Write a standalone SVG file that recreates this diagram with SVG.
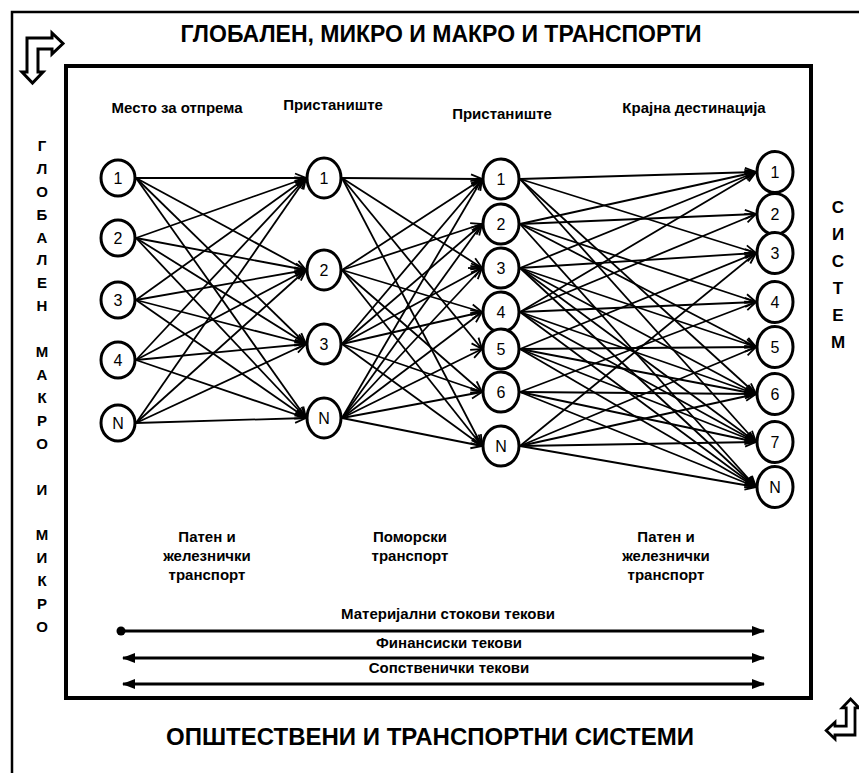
<svg xmlns="http://www.w3.org/2000/svg" width="859" height="773" viewBox="0 0 859 773">
<defs>
<style>
.t{font-family:"Liberation Sans",Arial,sans-serif;fill:#000}
.b{font-weight:bold}
.h{font-size:15px;font-weight:bold;text-anchor:middle}
.v{font-size:15px;font-weight:bold;text-anchor:middle}
.vr{font-size:17px;font-weight:bold;text-anchor:middle}
.n ellipse{fill:#fff;stroke:#000;stroke-width:3}
.n text{font-family:"Liberation Sans",Arial,sans-serif;font-size:16px;text-anchor:middle}
.e line{stroke:#000;stroke-width:1.8;marker-end:url(#oa)}
.f line{stroke:#000;stroke-width:3}
</style>
<marker id="oa" markerWidth="14" markerHeight="12" refX="12" refY="6" orient="auto" markerUnits="userSpaceOnUse">
<path d="M1,1.5 L12,6 L1,10.5" fill="none" stroke="#000" stroke-width="1.8"/>
</marker>
<marker id="fa" markerWidth="14" markerHeight="12" refX="12" refY="6" orient="auto-start-reverse" markerUnits="userSpaceOnUse">
<path d="M0,1 L13,6 L0,11 Z" fill="#000"/>
</marker>
<path id="elbow" d="M27,38 L52,38 L52,33 L63,43.5 L52,54 L52,49 L38,49 L38,72 L43,72 L32.5,83 L22,72 L27,72 Z"/>
</defs>
<rect width="859" height="773" fill="#fff"/>
<rect x="12" y="12" width="900" height="900" fill="none" stroke="#000" stroke-width="2.5"/>
<rect x="66" y="66" width="745" height="632" fill="none" stroke="#000" stroke-width="4"/>

<use href="#elbow" fill="#fff" stroke="#000" stroke-width="3"/>
<use href="#elbow" fill="#fff" stroke="#000" stroke-width="3.5" transform="translate(855,735) rotate(180) scale(0.8) translate(-27,-38)"/>

<text class="t b" x="441" y="42" font-size="23" text-anchor="middle">ГЛОБАЛЕН, МИКРО И МАКРО И ТРАНСПОРТИ</text>
<text class="t b" x="430" y="745" font-size="24" text-anchor="middle">ОПШТЕСТВЕНИ И ТРАНСПОРТНИ СИСТЕМИ</text>

<g class="t v">
<text x="42" y="151">Г</text><text x="42" y="174">Л</text><text x="42" y="197">О</text><text x="42" y="220">Б</text><text x="42" y="243">А</text><text x="42" y="265">Л</text><text x="42" y="288">Е</text><text x="42" y="311">Н</text>
<text x="42" y="357">М</text><text x="42" y="380">А</text><text x="42" y="403">К</text><text x="42" y="426">Р</text><text x="42" y="449">О</text>
<text x="42" y="495">И</text>
<text x="42" y="540">М</text><text x="42" y="563">И</text><text x="42" y="586">К</text><text x="42" y="609">Р</text><text x="42" y="632">О</text>
</g>
<g class="t vr">
<text x="838" y="213">С</text><text x="838" y="240">И</text><text x="838" y="267">С</text><text x="838" y="294">Т</text><text x="838" y="321">Е</text><text x="838" y="348">М</text>
</g>

<g class="t h">
<text x="177" y="113">Место за отпрема</text>
<text x="333" y="110">Пристаниште</text>
<text x="502" y="119">Пристаниште</text>
<text x="694" y="113">Крајна дестинација</text>
<text x="207" y="542">Патен и</text><text x="207" y="561">железнички</text><text x="207" y="580">транспорт</text>
<text x="410" y="542">Поморски</text><text x="410" y="561">транспорт</text>
<text x="666" y="542">Патен и</text><text x="666" y="561">железнички</text><text x="666" y="580">транспорт</text>
<text x="448" y="619">Материјални стокови текови</text>
<text x="449" y="648">Финансиски текови</text>
<text x="449" y="673">Сопственички текови</text>
</g>

<g id="connectors">
<g class="e">
<line x1="136" y1="178" x2="306" y2="178"/><line x1="136" y1="178" x2="306" y2="270"/><line x1="136" y1="178" x2="306" y2="344"/><line x1="136" y1="178" x2="306" y2="418"/>
<line x1="136" y1="238" x2="306" y2="178"/><line x1="136" y1="238" x2="306" y2="270"/><line x1="136" y1="238" x2="306" y2="344"/><line x1="136" y1="238" x2="306" y2="418"/>
<line x1="136" y1="300" x2="306" y2="178"/><line x1="136" y1="300" x2="306" y2="270"/><line x1="136" y1="300" x2="306" y2="344"/><line x1="136" y1="300" x2="306" y2="418"/>
<line x1="136" y1="360" x2="306" y2="178"/><line x1="136" y1="360" x2="306" y2="270"/><line x1="136" y1="360" x2="306" y2="344"/><line x1="136" y1="360" x2="306" y2="418"/>
<line x1="136" y1="423" x2="306" y2="178"/><line x1="136" y1="423" x2="306" y2="270"/><line x1="136" y1="423" x2="306" y2="344"/><line x1="136" y1="423" x2="306" y2="418"/>

<line x1="342" y1="178" x2="482" y2="179"/><line x1="342" y1="178" x2="482" y2="268"/><line x1="342" y1="178" x2="482" y2="349"/><line x1="342" y1="178" x2="482" y2="446"/>
<line x1="342" y1="270" x2="482" y2="179"/><line x1="342" y1="270" x2="482" y2="224"/><line x1="342" y1="270" x2="482" y2="312"/><line x1="342" y1="270" x2="482" y2="392"/><line x1="342" y1="270" x2="482" y2="446"/>
<line x1="342" y1="344" x2="482" y2="179"/><line x1="342" y1="344" x2="482" y2="224"/><line x1="342" y1="344" x2="482" y2="268"/><line x1="342" y1="344" x2="482" y2="312"/><line x1="342" y1="344" x2="482" y2="392"/><line x1="342" y1="344" x2="482" y2="446"/>
<line x1="342" y1="418" x2="482" y2="179"/><line x1="342" y1="418" x2="482" y2="224"/><line x1="342" y1="418" x2="482" y2="268"/><line x1="342" y1="418" x2="482" y2="312"/><line x1="342" y1="418" x2="482" y2="349"/><line x1="342" y1="418" x2="482" y2="392"/><line x1="342" y1="418" x2="482" y2="446"/>
<line x1="468" y1="268" x2="482" y2="268"/>

<line x1="520" y1="179" x2="756" y2="172"/><line x1="520" y1="179" x2="756" y2="253"/><line x1="520" y1="179" x2="756" y2="394"/><line x1="520" y1="179" x2="756" y2="442"/>
<line x1="520" y1="224" x2="756" y2="172"/><line x1="520" y1="224" x2="756" y2="214"/><line x1="520" y1="224" x2="756" y2="302"/><line x1="520" y1="224" x2="756" y2="347"/><line x1="520" y1="224" x2="756" y2="487"/>
<line x1="520" y1="268" x2="756" y2="172"/><line x1="520" y1="268" x2="756" y2="253"/><line x1="520" y1="268" x2="756" y2="347"/><line x1="520" y1="268" x2="756" y2="394"/><line x1="520" y1="268" x2="756" y2="442"/><line x1="520" y1="268" x2="756" y2="487"/>
<line x1="520" y1="312" x2="756" y2="172"/><line x1="520" y1="312" x2="756" y2="214"/><line x1="520" y1="312" x2="756" y2="302"/><line x1="520" y1="312" x2="756" y2="394"/><line x1="520" y1="312" x2="756" y2="442"/><line x1="520" y1="312" x2="756" y2="487"/>
<line x1="520" y1="349" x2="756" y2="253"/><line x1="520" y1="349" x2="756" y2="347"/><line x1="520" y1="349" x2="756" y2="394"/><line x1="520" y1="349" x2="756" y2="442"/><line x1="520" y1="349" x2="756" y2="487"/>
<line x1="520" y1="392" x2="756" y2="302"/><line x1="520" y1="392" x2="756" y2="394"/><line x1="520" y1="392" x2="756" y2="442"/><line x1="520" y1="392" x2="756" y2="487"/>
<line x1="520" y1="446" x2="756" y2="253"/><line x1="520" y1="446" x2="756" y2="347"/><line x1="520" y1="446" x2="756" y2="394"/><line x1="520" y1="446" x2="756" y2="442"/><line x1="520" y1="446" x2="756" y2="487"/>
</g>
<g class="f">
<line x1="121" y1="631" x2="764" y2="631" marker-end="url(#fa)"/>
<line x1="123" y1="658" x2="764" y2="658" marker-start="url(#fa)" marker-end="url(#fa)"/>
<line x1="123" y1="684" x2="764" y2="684" marker-start="url(#fa)" marker-end="url(#fa)"/>
</g>
<circle cx="121" cy="631" r="4.5" fill="#000"/>
</g>

<g class="n">
<g id="s1"><ellipse cx="118" cy="178" rx="17" ry="18"/><text x="118" y="184">1</text></g>
<g id="s2"><ellipse cx="118" cy="238" rx="17" ry="18"/><text x="118" y="244">2</text></g>
<g id="s3"><ellipse cx="118" cy="300" rx="17" ry="18"/><text x="118" y="306">3</text></g>
<g id="s4"><ellipse cx="118" cy="360" rx="17" ry="18"/><text x="118" y="366">4</text></g>
<g id="sN"><ellipse cx="118" cy="423" rx="17" ry="18"/><text x="118" y="429">N</text></g>

<g id="p1"><ellipse cx="324" cy="178" rx="17" ry="20"/><text x="324" y="184">1</text></g>
<g id="p2"><ellipse cx="324" cy="270" rx="17" ry="20"/><text x="324" y="276">2</text></g>
<g id="p3"><ellipse cx="324" cy="344" rx="17" ry="20"/><text x="324" y="350">3</text></g>
<g id="pN"><ellipse cx="324" cy="418" rx="17" ry="20"/><text x="324" y="424">N</text></g>

<g id="q1"><ellipse cx="501" cy="179" rx="18" ry="20"/><text x="501" y="185">1</text></g>
<g id="q2"><ellipse cx="501" cy="224" rx="18" ry="20"/><text x="501" y="230">2</text></g>
<g id="q3"><ellipse cx="501" cy="268" rx="18" ry="20"/><text x="501" y="274">3</text></g>
<g id="q4"><ellipse cx="501" cy="312" rx="18" ry="20"/><text x="501" y="318">4</text></g>
<g id="q5"><ellipse cx="501" cy="349" rx="18" ry="20"/><text x="501" y="355">5</text></g>
<g id="q6"><ellipse cx="501" cy="392" rx="18" ry="20"/><text x="501" y="398">6</text></g>
<g id="qN"><ellipse cx="501" cy="446" rx="18" ry="20"/><text x="501" y="452">N</text></g>

<g id="d1"><ellipse cx="775" cy="172" rx="18" ry="20.5"/><text x="775" y="178">1</text></g>
<g id="d2"><ellipse cx="775" cy="214" rx="18" ry="20.5"/><text x="775" y="220">2</text></g>
<g id="d3"><ellipse cx="775" cy="253" rx="18" ry="20.5"/><text x="775" y="259">3</text></g>
<g id="d4"><ellipse cx="775" cy="302" rx="18" ry="20.5"/><text x="775" y="308">4</text></g>
<g id="d5"><ellipse cx="775" cy="347" rx="18" ry="20.5"/><text x="775" y="353">5</text></g>
<g id="d6"><ellipse cx="775" cy="394" rx="18" ry="20.5"/><text x="775" y="400">6</text></g>
<g id="d7"><ellipse cx="775" cy="442" rx="18" ry="20.5"/><text x="775" y="448">7</text></g>
<g id="dN"><ellipse cx="775" cy="487" rx="18" ry="20.5"/><text x="775" y="493">N</text></g>
</g>
</svg>
